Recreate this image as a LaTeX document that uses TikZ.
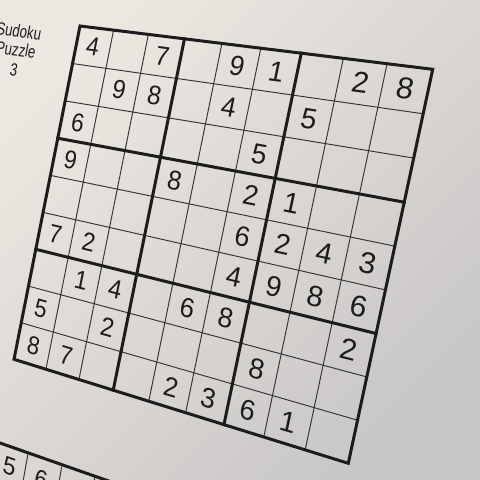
\documentclass[tikz,border=0pt]{standalone}
\usepackage{fontspec}
\setmainfont{Liberation Sans}
\definecolor{ink}{HTML}{1C1C1C}
\definecolor{linegray}{HTML}{333333}
\definecolor{paperA}{RGB}{236,232,225}
\definecolor{paperB}{RGB}{200,198,198}
% homography of the photographed grid: unit square -> image pixels
\newcommand\sdkmap[2]{%
 \pgfmathsetmacro\hw{1-0.15806*(#1)+0.015136*(#2)}%
 \pgfmathsetmacro\hx{(284.31*(#1)-65.79*(#2)+80)/\hw}%
 \pgfmathsetmacro\hy{(32.35*(#1)+338.74*(#2)+26)/\hw}%
 \pgfmathsetmacro\ja{(284.31+0.15806*\hx)/\hw/320}%
 \pgfmathsetmacro\jb{-(32.35+0.15806*\hy)/\hw/320}%
 \pgfmathsetmacro\jc{(65.79+0.015136*\hx)/\hw/320}%
 \pgfmathsetmacro\jd{(338.74-0.015136*\hy)/\hw/320}%
}
\begin{document}
\begin{tikzpicture}[x=1pt,y=-1pt,
  thinline/.style={line width=0.95pt, draw=linegray},
  thickline/.style={line width=3pt, draw=ink, line cap=rect},
  digit/.style={font=\fontsize{24}{24}\selectfont, text=ink, inner sep=0pt},
  titletext/.style={font=\fontsize{17}{17}\selectfont, text=ink, inner sep=0pt,
    cm={0.77,-0.10,0.19,1.03,(0,0)}}]
\useasboundingbox (0,0) rectangle (480,480);
\clip (0,0) rectangle (480,480);
\shade[top color=paperA, bottom color=paperB, shading angle=45] (-10,-10) rectangle (490,490);

% grid corner/edge points
\foreach \i in {0,...,9}{
  \sdkmap{\i/9}{0}\coordinate (t\i) at (\hx,\hy);
  \sdkmap{\i/9}{1}\coordinate (b\i) at (\hx,\hy);
  \sdkmap{0}{\i/9}\coordinate (l\i) at (\hx,\hy);
  \sdkmap{1}{\i/9}\coordinate (r\i) at (\hx,\hy);
}
\foreach \i in {1,2,4,5,7,8}{
  \draw[thinline] (t\i) -- (b\i);
  \draw[thinline] (l\i) -- (r\i);
}
\foreach \i in {3,6}{
  \draw[thickline] (t\i) -- (b\i);
  \draw[thickline] (l\i) -- (r\i);
}
\draw[thickline, line join=miter] (t0) -- (t9) -- (b9) -- (b0) -- cycle;

% digits
\foreach \rw/\cl/\dg in {1/1/4,1/3/7,1/5/9,1/6/1,1/8/2,1/9/8,
  2/2/9,2/3/8,2/5/4,2/7/5,
  3/1/6,3/6/5,
  4/1/9,4/4/8,4/6/2,4/7/1,
  5/6/6,5/7/2,5/8/4,5/9/3,
  6/1/7,6/2/2,6/6/4,6/7/9,6/8/8,6/9/6,
  7/2/1,7/3/4,7/5/6,7/6/8,7/9/2,
  8/1/5,8/3/2,8/7/8,
  9/1/8,9/2/7,9/5/2,9/6/3,9/7/6,9/8/1}{
  \sdkmap{(\cl-0.5)/9}{(\rw-0.5)/9}
  \begin{scope}[shift={(\hx,\hy)}]
    \node[digit, cm={\ja,\jb,\jc,\jd,(0,0)}] (d\rw\cl) at (0,0) {\dg};
  \end{scope}
}

% title
\begin{scope}[shift={(19,31)}]
  \node[titletext] (tsud) at (0,0) {Sudoku};
\end{scope}
\begin{scope}[shift={(16,49.5)}]
  \node[titletext] (tpuz) at (0,0) {Puzzle};
\end{scope}
\begin{scope}[shift={(14,70)}]
  \node[titletext] (tnum) at (0,0) {3};
\end{scope}

% next puzzle, cut by the bottom edge
\coordinate (pa) at (-20,436);
\coordinate (pb) at (140,492);
\coordinate (pc) at (28.3,452);
\coordinate (pd) at (21.5,490);
\coordinate (pe) at (61.7,466.7);
\coordinate (pf) at (57.7,490);
\coordinate (pg) at (95,476.3);
\coordinate (ph) at (92.6,490);
\draw[thinline] (pc) -- (pd);
\draw[thinline] (pe) -- (pf);
\draw[thinline] (pg) -- (ph);
\draw[thickline] (pa) -- (pb);
\begin{scope}[shift={(9.5,466)}]
  \node[digit, cm={0.93,-0.33,0.18,1.02,(0,0)}] (n5) at (0,0) {5};
\end{scope}
\begin{scope}[shift={(41,479)}]
  \node[digit, cm={0.93,-0.33,0.18,1.02,(0,0)}] (n6) at (0,0) {6};
\end{scope}
\end{tikzpicture}
\end{document}
